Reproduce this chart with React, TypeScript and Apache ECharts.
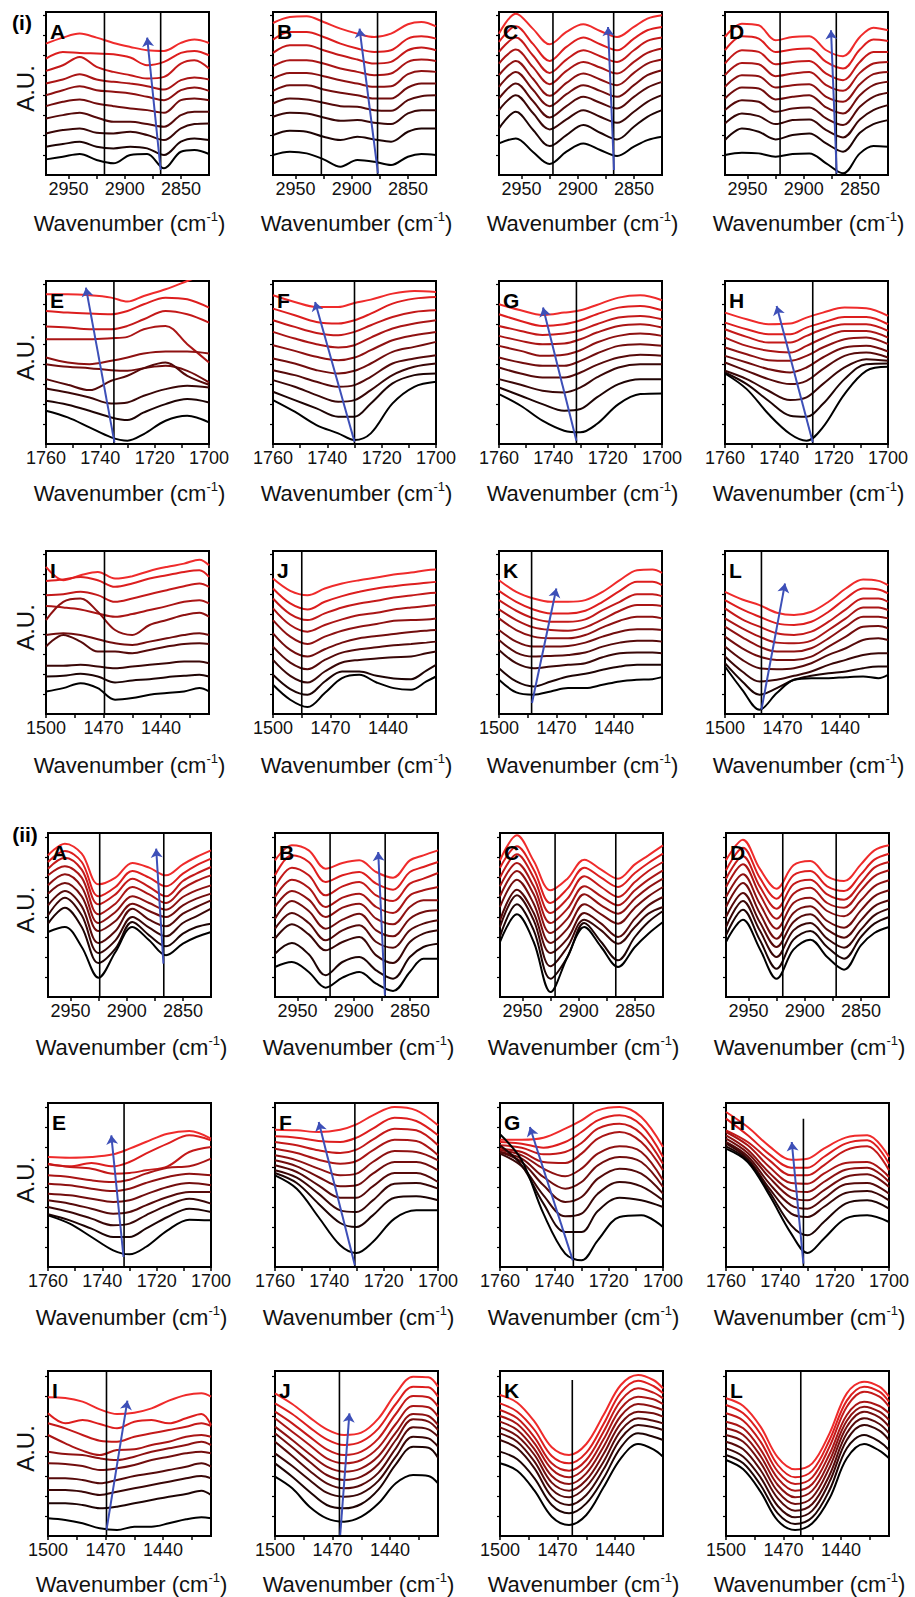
import React, { useEffect, useRef } from 'react';
import * as echarts from 'echarts';

const W = 915;
const H = 1597;
const FONT = '"Liberation Sans", Arial, Helvetica, sans-serif';

// sampled wavenumbers (cm-1)
const xCH = [2970, 2955, 2940, 2925, 2910, 2895, 2880, 2865, 2850, 2838, 2825];
const xCO = [1760, 1752, 1744, 1736, 1730, 1724, 1716, 1708, 1700];
const xSC = [1500, 1491, 1482, 1473, 1464, 1455, 1446, 1437, 1428, 1420, 1415];

// tick labels
const ticksCH = [2950, 2925, 2900, 2875, 2850];
const labelsCH = [2950, 2900, 2850];
const ticksCO = [1760, 1750, 1740, 1730, 1720, 1710, 1700];
const labelsCO = [1760, 1740, 1720, 1700];
const ticksSC = [1500, 1485, 1470, 1455, 1440, 1425];
const labelsSC = [1500, 1470, 1440];

// curve colours, black (first spectrum) to red (last spectrum)
const curveColors = ['#000000', '#1e0404', '#3a0707', '#560a0a', '#720d0d', '#8e1111', '#aa1515', '#c41919', '#dd1e1e', '#ef2b2b'];

// ---- (i) spectra: rows listed top (red) to bottom (black), A.U. ----
const iA = [
  [395, 413, 425, 413, 397, 385, 375, 373, 397, 407, 397],
  [350, 370, 367, 365, 363, 353, 330, 340, 367, 373, 360],
  [313, 330, 355, 325, 310, 300, 290, 295, 335, 345, 320],
  [275, 287, 303, 287, 280, 275, 267, 257, 285, 293, 287],
  [240, 255, 267, 255, 250, 245, 235, 225, 255, 263, 253],
  [207, 220, 227, 215, 207, 200, 195, 187, 225, 230, 225],
  [170, 180, 187, 173, 160, 160, 153, 145, 180, 190, 190],
  [125, 135, 140, 127, 125, 130, 120, 105, 140, 153, 155],
  [85, 93, 100, 85, 80, 85, 80, 60, 100, 110, 105],
  [47, 55, 63, 45, 35, 60, 63, 20, 70, 75, 63],
];
const iB = [
  [457, 475, 477, 460, 440, 425, 415, 425, 453, 460, 447],
  [407, 430, 430, 415, 395, 380, 370, 375, 410, 417, 410],
  [367, 390, 390, 375, 360, 347, 335, 340, 375, 383, 375],
  [327, 345, 345, 335, 320, 310, 300, 305, 340, 347, 343],
  [290, 307, 307, 297, 285, 275, 265, 267, 303, 313, 310],
  [253, 270, 270, 257, 247, 240, 230, 230, 263, 275, 275],
  [215, 230, 227, 217, 207, 205, 195, 193, 225, 237, 240],
  [175, 187, 185, 173, 163, 165, 157, 153, 185, 195, 195],
  [120, 133, 130, 115, 105, 115, 107, 100, 130, 140, 140],
  [60, 70, 65, 47, 25, 45, 40, 30, 55, 63, 60],
];
const iC = [
  [425, 485, 440, 393, 430, 453, 433, 415, 445, 470, 480],
  [400, 447, 395, 343, 385, 413, 393, 375, 410, 435, 445],
  [370, 413, 360, 307, 347, 375, 357, 340, 375, 403, 413],
  [335, 377, 325, 273, 313, 340, 323, 305, 340, 367, 380],
  [300, 343, 290, 238, 277, 305, 287, 270, 307, 335, 347],
  [265, 310, 257, 207, 243, 270, 253, 235, 270, 300, 315],
  [230, 275, 223, 173, 207, 235, 217, 200, 235, 263, 280],
  [195, 240, 187, 137, 167, 195, 175, 157, 190, 220, 240],
  [140, 190, 137, 87, 120, 150, 127, 107, 145, 175, 195],
  [95, 110, 70, 33, 70, 95, 75, 57, 85, 105, 115],
];
const iD = [
  [415, 455, 450, 405, 415, 417, 375, 357, 415, 443, 435],
  [375, 417, 410, 370, 377, 380, 340, 320, 377, 407, 403],
  [335, 375, 370, 333, 340, 343, 305, 285, 340, 370, 370],
  [300, 337, 333, 297, 305, 310, 270, 253, 307, 335, 340],
  [265, 300, 297, 263, 270, 273, 235, 220, 273, 303, 310],
  [230, 263, 260, 227, 235, 240, 203, 185, 240, 270, 280],
  [195, 225, 220, 190, 200, 203, 170, 150, 205, 235, 247],
  [155, 185, 177, 153, 165, 167, 135, 113, 167, 195, 210],
  [105, 140, 130, 107, 120, 125, 95, 70, 127, 153, 165],
  [60, 67, 65, 55, 63, 65, 35, 5, 65, 87, 85],
];
const iE = [
  [450, 450, 447, 440, 428, 445, 465, 490, 515],
  [400, 395, 392, 390, 400, 420, 440, 435, 410],
  [353, 350, 345, 345, 355, 375, 400, 390, 365],
  [315, 315, 315, 318, 322, 345, 355, 300, 245],
  [260, 245, 240, 250, 260, 272, 278, 278, 272],
  [240, 232, 228, 222, 220, 228, 235, 220, 185],
  [195, 178, 162, 190, 205, 228, 245, 205, 178],
  [167, 155, 140, 122, 125, 145, 165, 175, 170],
  [130, 118, 100, 80, 72, 95, 120, 135, 125],
  [100, 80, 50, 20, 10, 30, 70, 85, 65],
];
const iF = [
  [447, 427, 412, 412, 424, 434, 452, 460, 457],
  [407, 387, 367, 362, 372, 392, 422, 437, 442],
  [372, 352, 334, 327, 337, 357, 382, 397, 402],
  [337, 317, 300, 290, 297, 320, 347, 362, 372],
  [297, 280, 262, 252, 260, 282, 312, 327, 337],
  [257, 242, 222, 212, 220, 242, 277, 292, 307],
  [222, 207, 187, 172, 177, 202, 242, 257, 267],
  [192, 172, 147, 127, 132, 162, 207, 232, 242],
  [157, 132, 107, 82, 82, 122, 182, 207, 212],
  [132, 97, 57, 32, 12, 32, 122, 172, 187],
];
const iG = [
  [420, 402, 388, 395, 402, 418, 440, 447, 432],
  [390, 370, 355, 360, 372, 390, 410, 415, 402],
  [355, 340, 328, 332, 342, 360, 380, 385, 375],
  [325, 310, 300, 302, 315, 335, 355, 360, 350],
  [295, 280, 265, 268, 282, 305, 325, 332, 325],
  [260, 245, 235, 235, 250, 272, 295, 300, 295],
  [230, 212, 200, 200, 215, 238, 260, 268, 265],
  [195, 178, 160, 155, 170, 200, 230, 240, 240],
  [170, 145, 120, 100, 105, 140, 180, 195, 195],
  [150, 115, 70, 40, 35, 60, 120, 150, 152],
];
const iH = [
  [395, 375, 360, 362, 380, 395, 410, 408, 385],
  [365, 345, 330, 330, 350, 365, 382, 382, 360],
  [345, 322, 305, 305, 325, 345, 360, 360, 340],
  [320, 295, 280, 275, 295, 318, 340, 340, 320],
  [290, 270, 252, 250, 265, 290, 315, 320, 300],
  [265, 245, 225, 215, 230, 260, 290, 295, 278],
  [245, 220, 195, 180, 190, 225, 265, 275, 260],
  [220, 195, 160, 132, 140, 180, 230, 255, 250],
  [215, 180, 130, 85, 82, 120, 195, 240, 242],
  [212, 165, 90, 30, 10, 50, 150, 220, 232],
];
const iI = [
  [443, 403, 418, 428, 408, 415, 431, 443, 453, 465, 448],
  [401, 405, 413, 403, 383, 393, 408, 418, 428, 433, 413],
  [358, 361, 368, 358, 338, 348, 361, 373, 385, 393, 383],
  [325, 321, 315, 303, 293, 301, 313, 325, 338, 343, 333],
  [283, 338, 348, 308, 253, 238, 268, 283, 298, 305, 293],
  [238, 243, 238, 225, 213, 208, 218, 228, 238, 243, 238],
  [203, 238, 218, 188, 188, 183, 193, 203, 211, 213, 211],
  [145, 145, 148, 143, 138, 143, 148, 153, 158, 158, 153],
  [113, 115, 121, 113, 95, 101, 105, 111, 115, 118, 113],
  [68, 78, 93, 78, 43, 48, 58, 63, 68, 78, 68],
];
const iJ = [
  [408, 371, 358, 378, 393, 403, 411, 420, 426, 433, 435],
  [378, 333, 315, 338, 355, 368, 378, 385, 391, 395, 398],
  [348, 301, 283, 303, 321, 333, 341, 351, 357, 363, 365],
  [318, 268, 248, 268, 285, 298, 305, 315, 321, 325, 328],
  [283, 233, 211, 233, 251, 263, 271, 281, 283, 285, 288],
  [243, 193, 173, 195, 215, 228, 235, 241, 247, 251, 253],
  [203, 155, 135, 163, 185, 195, 201, 207, 211, 215, 218],
  [163, 115, 95, 128, 155, 163, 167, 171, 173, 183, 188],
  [118, 75, 58, 98, 128, 128, 115, 107, 105, 131, 148],
  [88, 43, 21, 63, 108, 118, 95, 78, 73, 98, 113],
];
const iK = [
  [403, 368, 348, 338, 338, 343, 368, 403, 433, 435, 425],
  [371, 338, 315, 303, 303, 311, 338, 371, 398, 398, 388],
  [343, 311, 288, 278, 278, 285, 313, 338, 361, 361, 355],
  [315, 283, 261, 253, 251, 261, 285, 311, 328, 328, 325],
  [288, 253, 233, 228, 228, 238, 261, 281, 293, 293, 288],
  [253, 218, 203, 203, 205, 215, 233, 248, 255, 255, 253],
  [223, 185, 173, 175, 178, 185, 203, 215, 221, 221, 218],
  [193, 153, 138, 143, 148, 153, 171, 183, 185, 185, 183],
  [138, 98, 83, 98, 113, 121, 133, 143, 148, 148, 148],
  [103, 65, 58, 68, 78, 78, 88, 98, 103, 105, 111],
];
const iL = [
  [368, 345, 328, 305, 298, 308, 338, 378, 405, 401, 388],
  [343, 315, 293, 273, 268, 278, 308, 348, 378, 375, 363],
  [318, 285, 263, 243, 238, 248, 278, 315, 348, 348, 338],
  [288, 258, 233, 215, 213, 221, 253, 288, 321, 321, 313],
  [263, 231, 203, 188, 188, 198, 228, 263, 293, 293, 288],
  [233, 198, 173, 163, 163, 173, 203, 233, 263, 265, 258],
  [203, 163, 138, 135, 138, 153, 178, 198, 223, 228, 223],
  [173, 128, 98, 103, 115, 128, 148, 163, 178, 183, 183],
  [153, 98, 58, 78, 103, 115, 123, 128, 138, 143, 143],
  [143, 73, 13, 63, 103, 108, 108, 111, 113, 108, 118],
];

// ---- (ii) spectra ----
const iiA = [
  [425, 460, 430, 338, 358, 402, 388, 365, 398, 420, 440],
  [405, 438, 405, 302, 330, 378, 358, 332, 370, 395, 415],
  [385, 418, 382, 278, 308, 355, 330, 302, 348, 370, 390],
  [365, 392, 358, 248, 280, 330, 308, 282, 325, 348, 365],
  [335, 368, 330, 222, 255, 302, 282, 262, 300, 320, 335],
  [310, 342, 302, 198, 228, 280, 258, 240, 275, 295, 310],
  [275, 318, 272, 162, 198, 265, 232, 212, 250, 270, 290],
  [245, 298, 245, 132, 170, 240, 208, 182, 222, 242, 265],
  [220, 268, 210, 102, 145, 225, 185, 152, 190, 210, 220],
  [195, 210, 150, 58, 135, 210, 170, 125, 160, 180, 195],
];
const iiB = [
  [410, 455, 440, 385, 402, 410, 375, 358, 410, 425, 440],
  [365, 425, 405, 345, 365, 375, 340, 322, 375, 390, 405],
  [330, 388, 365, 305, 332, 345, 305, 288, 340, 355, 372],
  [300, 352, 328, 270, 298, 310, 270, 252, 305, 320, 330],
  [270, 318, 292, 240, 268, 280, 235, 218, 270, 290, 290],
  [235, 288, 258, 205, 232, 250, 200, 182, 235, 255, 260],
  [205, 252, 222, 170, 200, 215, 165, 148, 200, 220, 230],
  [175, 218, 188, 140, 165, 180, 125, 102, 165, 190, 200],
  [130, 162, 128, 65, 105, 120, 80, 55, 120, 150, 160],
  [90, 105, 75, 28, 58, 75, 40, 18, 75, 115, 115],
];
const iiC = [
  [410, 485, 408, 320, 355, 412, 382, 355, 398, 425, 455],
  [388, 452, 382, 282, 325, 388, 358, 330, 372, 402, 430],
  [358, 428, 358, 252, 295, 362, 330, 300, 345, 378, 405],
  [332, 402, 332, 222, 265, 332, 302, 275, 320, 352, 380],
  [302, 378, 308, 192, 235, 308, 275, 250, 295, 328, 355],
  [270, 352, 280, 162, 205, 278, 248, 220, 268, 302, 330],
  [230, 322, 252, 132, 175, 252, 220, 180, 235, 275, 300],
  [210, 305, 230, 92, 150, 232, 200, 160, 210, 250, 270],
  [182, 278, 200, 55, 120, 222, 165, 110, 180, 225, 258],
  [165, 248, 165, 15, 120, 210, 150, 90, 150, 190, 225],
];
const iiD = [
  [410, 472, 385, 325, 395, 408, 362, 348, 398, 440, 455],
  [380, 448, 358, 295, 365, 378, 332, 318, 368, 412, 430],
  [355, 422, 332, 265, 338, 352, 308, 292, 342, 388, 405],
  [330, 398, 308, 235, 310, 328, 282, 268, 320, 362, 380],
  [300, 368, 280, 205, 282, 298, 258, 242, 290, 332, 350],
  [270, 342, 252, 175, 252, 272, 228, 208, 260, 302, 320],
  [240, 312, 225, 150, 225, 248, 202, 178, 230, 272, 290],
  [210, 288, 200, 120, 200, 222, 175, 148, 202, 245, 265],
  [185, 262, 172, 85, 172, 198, 150, 115, 180, 220, 240],
  [165, 232, 145, 55, 142, 172, 120, 82, 155, 192, 210],
];
const iiE = [
  [330, 328, 330, 338, 355, 375, 400, 408, 385],
  [310, 302, 312, 302, 315, 340, 370, 395, 380],
  [308, 300, 295, 280, 282, 290, 302, 345, 360],
  [275, 270, 260, 255, 262, 280, 298, 302, 325],
  [250, 245, 235, 228, 235, 252, 270, 280, 275],
  [220, 215, 205, 195, 200, 218, 240, 252, 245],
  [200, 190, 175, 160, 165, 185, 210, 225, 225],
  [180, 165, 145, 125, 130, 155, 185, 205, 190],
  [158, 140, 115, 90, 90, 115, 150, 175, 165],
  [155, 130, 90, 50, 38, 60, 110, 142, 140],
];
const iiF = [
  [412, 410, 405, 412, 428, 455, 480, 470, 425],
  [392, 388, 378, 375, 388, 415, 448, 438, 395],
  [375, 365, 350, 342, 352, 382, 415, 410, 365],
  [355, 342, 322, 310, 318, 350, 382, 378, 335],
  [335, 320, 295, 275, 280, 315, 348, 345, 320],
  [320, 302, 270, 242, 245, 280, 315, 315, 290],
  [305, 285, 245, 208, 208, 242, 282, 282, 255],
  [290, 268, 220, 170, 165, 200, 250, 252, 235],
  [282, 252, 190, 132, 120, 155, 208, 212, 200],
  [275, 235, 150, 65, 42, 75, 145, 170, 170],
];
const iiG = [
  [382, 382, 388, 415, 440, 470, 480, 450, 360],
  [375, 370, 358, 375, 405, 440, 455, 425, 330],
  [365, 358, 338, 345, 372, 415, 430, 400, 310],
  [355, 345, 315, 312, 340, 385, 405, 375, 290],
  [350, 335, 295, 272, 295, 340, 362, 345, 260],
  [345, 325, 270, 235, 255, 305, 330, 315, 240],
  [345, 315, 245, 195, 210, 265, 295, 280, 220],
  [340, 302, 215, 152, 160, 220, 255, 242, 200],
  [365, 305, 190, 105, 105, 168, 208, 200, 180],
  [398, 320, 160, 40, 20, 80, 150, 155, 120],
];
const iiH = [
  [465, 420, 362, 322, 325, 355, 388, 395, 330],
  [445, 395, 338, 298, 298, 330, 370, 380, 310],
  [410, 375, 320, 275, 275, 305, 350, 362, 290],
  [405, 365, 300, 252, 250, 280, 312, 315, 270],
  [395, 352, 282, 230, 225, 255, 292, 298, 255],
  [385, 342, 268, 208, 200, 230, 270, 278, 240],
  [375, 332, 250, 185, 175, 205, 248, 252, 220],
  [370, 325, 235, 160, 150, 180, 222, 228, 200],
  [362, 320, 225, 125, 95, 135, 190, 200, 175],
  [355, 315, 215, 100, 42, 85, 145, 155, 135],
];
const iiI = [
  [416, 414, 403, 380, 366, 370, 383, 406, 423, 428, 418],
  [368, 338, 348, 336, 323, 343, 348, 338, 353, 366, 333],
  [338, 323, 303, 286, 283, 298, 308, 318, 328, 338, 330],
  [303, 278, 256, 243, 258, 260, 273, 283, 298, 303, 298],
  [253, 246, 243, 233, 228, 238, 253, 263, 273, 283, 273],
  [218, 216, 210, 198, 203, 213, 228, 238, 248, 253, 248],
  [173, 173, 168, 158, 168, 180, 188, 198, 208, 218, 208],
  [138, 138, 133, 123, 133, 143, 153, 163, 173, 180, 173],
  [98, 98, 93, 83, 88, 98, 108, 118, 126, 136, 123],
  [53, 48, 38, 23, 18, 28, 28, 38, 50, 56, 53],
];
const iiJ = [
  [428, 396, 356, 320, 303, 310, 353, 428, 478, 476, 448],
  [398, 366, 326, 290, 273, 283, 323, 396, 448, 446, 418],
  [373, 338, 298, 260, 243, 253, 293, 366, 420, 416, 388],
  [353, 313, 273, 233, 218, 228, 266, 336, 390, 386, 358],
  [328, 288, 246, 208, 193, 203, 240, 310, 366, 360, 333],
  [308, 266, 223, 183, 168, 178, 216, 288, 350, 343, 318],
  [283, 240, 196, 158, 143, 153, 190, 263, 326, 320, 298],
  [248, 210, 168, 130, 118, 128, 166, 238, 298, 293, 268],
  [218, 178, 133, 93, 83, 96, 140, 215, 268, 265, 235],
  [178, 143, 88, 53, 43, 58, 98, 158, 183, 180, 158],
];
const iiK = [
  [423, 400, 343, 266, 243, 276, 363, 453, 483, 468, 443],
  [398, 373, 318, 240, 218, 250, 336, 430, 466, 450, 428],
  [378, 353, 296, 218, 196, 228, 313, 406, 443, 430, 413],
  [360, 336, 278, 200, 176, 208, 290, 383, 418, 410, 396],
  [343, 318, 260, 180, 156, 188, 268, 360, 396, 388, 378],
  [326, 300, 243, 160, 136, 168, 246, 338, 373, 368, 358],
  [308, 283, 223, 140, 116, 148, 223, 316, 353, 346, 338],
  [288, 263, 203, 118, 93, 123, 200, 293, 333, 326, 318],
  [253, 230, 173, 93, 68, 98, 173, 266, 308, 298, 288],
  [218, 196, 136, 58, 33, 63, 146, 233, 276, 260, 238],
];
const iiL = [
  [413, 390, 328, 236, 200, 218, 308, 428, 463, 448, 418],
  [393, 368, 306, 213, 176, 196, 288, 406, 448, 433, 403],
  [368, 346, 283, 193, 156, 176, 268, 388, 433, 418, 388],
  [343, 323, 260, 173, 136, 156, 246, 363, 403, 390, 368],
  [323, 303, 240, 153, 116, 136, 226, 346, 388, 373, 348],
  [303, 283, 220, 133, 96, 116, 206, 328, 373, 356, 328],
  [283, 260, 198, 113, 76, 96, 183, 308, 353, 336, 308],
  [263, 238, 176, 90, 56, 76, 163, 288, 333, 316, 288],
  [243, 218, 153, 68, 36, 56, 138, 263, 303, 283, 258],
  [228, 200, 133, 46, 18, 38, 113, 233, 276, 256, 233],
];

// reference lines (wavenumber, optional upper end) and blue arrows (from, to)
const vlinesI = {
  A: [2918, 2868], B: [2927, 2877], C: [2922, 2868], D: [2921, 2871],
  E: [1735], F: [1730], G: [1731.5], H: [1727.7],
  I: [1469.5], J: [1485], K: [1483], L: [1481],
};
const vlinesII = {
  A: [2924, 2867], B: [2921, 2872], C: [2921, 2867], D: [2919.5, 2872],
  E: [1732], F: [1730.6], G: [1733], H: [[1731.5, 445]],
  I: [1469.5], J: [1466.4], K: [[1462.3, 468]], L: [1461],
};
const arrowsI = {
  A: [[2868, 15], [2880, 413]], B: [[2876.6, 5], [2893, 440]], C: [[2867.7, 15], [2873, 445]], D: [[2870.6, 5], [2875.7, 435]],
  E: [[1734.8, 5], [1745.3, 470]], F: [[1730, 7], [1744.5, 427]], G: [[1731.5, 10], [1743.8, 410]], H: [[1727.7, 5], [1741, 415]],
  K: [[1482.8, 33], [1470.1, 378]], L: [[1481, 13], [1468.7, 393]],
};
const arrowsII = {
  A: [[2867.3, 100], [2873.8, 445]], B: [[2872.2, 5], [2878.2, 435]],
  E: [[1732.2, 30], [1736.7, 395]], F: [[1730.6, 5], [1743.9, 435]], G: [[1733.2, 20], [1749, 420]], H: [[1731.5, 10], [1735.8, 375]],
  I: [[1469.5, 18], [1458.6, 406]], J: [[1466, 3], [1461.2, 368]],
};

// ---- layout (pixels) ----
const colLeftTop = [46, 273, 499, 725];
const colLeftBottom = [48, 275, 500, 726];
const rowTop = [12, 281, 551, 833, 1103, 1371];
const rowH = [163, 163, 163, 164, 164, 165];
const rowYMax = [490, 490, 491, 492, 492, 495];
const titleY = [223, 493, 765, 1047, 1317, 1584];
const BOX_W = 163;

const ranges: any = {
  CH: { xs: xCH, min: 2825, max: 2970, ticks: ticksCH, labels: labelsCH },
  CO: { xs: xCO, min: 1700, max: 1760, ticks: ticksCO, labels: labelsCO },
  SC: { xs: xSC, min: 1415, max: 1500, ticks: ticksSC, labels: labelsSC },
};

const curvesI: any = { A: iA, B: iB, C: iC, D: iD, E: iE, F: iF, G: iG, H: iH, I: iI, J: iJ, K: iK, L: iL };
const curvesII: any = { A: iiA, B: iiB, C: iiC, D: iiD, E: iiE, F: iiF, G: iiG, H: iiH, I: iiI, J: iiJ, K: iiK, L: iiL };
const letters = ['A', 'B', 'C', 'D', 'E', 'F', 'G', 'H', 'I', 'J', 'K', 'L'];
const rowKinds = ['CH', 'CO', 'SC'];

function buildOption() {
  const grid: any[] = [];
  const xAxis: any[] = [];
  const yAxis: any[] = [];
  const series: any[] = [];
  const graphic: any[] = [];
  let idx = 0;
  [0, 1].forEach((sec) => {
    const curvesMap = sec === 0 ? curvesI : curvesII;
    const vmap: any = sec === 0 ? vlinesI : vlinesII;
    const amap: any = sec === 0 ? arrowsI : arrowsII;
    letters.forEach((L, li) => {
      const r = sec * 3 + Math.floor(li / 4);
      const c = li % 4;
      const kind = rowKinds[Math.floor(li / 4)];
      const rg = ranges[kind];
      const left = (sec === 0 ? colLeftTop : colLeftBottom)[c];
      const top = rowTop[r];
      const h = rowH[r];
      const ymax = rowYMax[r];
      const i = idx++;
      grid.push({ left, top, width: BOX_W, height: h, show: true, borderColor: '#000', borderWidth: 2, backgroundColor: 'rgba(0,0,0,0)' });
      xAxis.push({
        gridIndex: i, type: 'value', inverse: true, min: rg.min, max: rg.max,
        axisLine: { show: true, onZero: false, lineStyle: { color: '#000', width: 2 } },
        axisTick: { show: true, customValues: rg.ticks, length: 4, lineStyle: { color: '#000', width: 1.5 } },
        axisLabel: {
          show: true, customValues: rg.labels, color: '#111', fontSize: 18, fontFamily: FONT, margin: 5,
          formatter: (v: number) => String(v),
        },
        splitLine: { show: false },
      });
      yAxis.push({
        gridIndex: i, type: 'value', min: 0, max: ymax,
        axisLine: { show: true, onZero: false, lineStyle: { color: '#000', width: 2 } },
        axisTick: { show: true, customValues: [60, 120, 180, 240, 300, 360, 420, 480], length: 3, lineStyle: { color: '#000', width: 1.2 } },
        axisLabel: { show: false },
        splitLine: { show: false },
      });
      const curves = curvesMap[L];
      curves.forEach((vals: number[], k: number) => {
        series.push({
          type: 'line', xAxisIndex: i, yAxisIndex: i,
          data: rg.xs.map((x: number, j: number) => [x, vals[j]]),
          smooth: 0.35, symbol: 'none', silent: true, z: 2, clip: true,
          lineStyle: { color: curveColors[curves.length - 1 - k], width: 2 },
        });
      });
      (vmap[L] || []).forEach((v: any) => {
        const x = Array.isArray(v) ? v[0] : v;
        const to = Array.isArray(v) ? v[1] : ymax;
        series.push({
          type: 'line', xAxisIndex: i, yAxisIndex: i, data: [[x, 0], [x, to]],
          symbol: 'none', silent: true, z: 3, lineStyle: { color: '#000', width: 1.6 },
        });
      });
      if (amap[L]) {
        series.push({
          type: 'lines', coordinateSystem: 'cartesian2d', xAxisIndex: i, yAxisIndex: i,
          data: [{ coords: amap[L] }], symbol: ['none', 'arrow'], symbolSize: 9, silent: true, z: 5,
          lineStyle: { color: '#3d4fb8', width: 2, opacity: 1, curveness: 0 },
        });
      }
      graphic.push({
        type: 'text', x: left + 4, y: top + 19, z: 100,
        style: { text: L, fontSize: 21, fontWeight: 'bold', fontFamily: FONT, fill: '#000', align: 'left', verticalAlign: 'middle' },
      });
      graphic.push({
        type: 'text', x: left + BOX_W / 2 + 2, y: titleY[r], z: 100,
        style: {
          text: '{a|Wavenumber (cm}{s|-1}{a|)}', align: 'center', verticalAlign: 'middle',
          rich: {
            a: { fontSize: 22, fontFamily: FONT, fill: '#111', lineHeight: 26 },
            s: { fontSize: 13, fontFamily: FONT, fill: '#111', verticalAlign: 'top', lineHeight: 14 },
          },
        },
      });
      if (c === 0) {
        graphic.push({
          type: 'text', x: 25, y: top + h / 2 - 5, rotation: Math.PI / 2, z: 100,
          style: { text: 'A.U.', fontSize: 24, fontFamily: FONT, fill: '#111', align: 'center', verticalAlign: 'middle' },
        });
      }
    });
  });
  graphic.push({ type: 'text', x: 22, y: 22, z: 100, style: { text: '(i)', fontSize: 21, fontWeight: 'bold', fontFamily: FONT, fill: '#000', align: 'center', verticalAlign: 'middle' } });
  graphic.push({ type: 'text', x: 25, y: 834, z: 100, style: { text: '(ii)', fontSize: 21, fontWeight: 'bold', fontFamily: FONT, fill: '#000', align: 'center', verticalAlign: 'middle' } });

  return { animation: false, backgroundColor: '#fff', grid, xAxis, yAxis, series, graphic };
}

export default function App() {
  const ref = useRef<HTMLDivElement>(null);
  useEffect(() => {
    const chart = echarts.init(ref.current as HTMLDivElement, null, { renderer: 'svg' });
    chart.setOption(buildOption());
    return () => chart.dispose();
  }, []);
  return <div ref={ref} style={{ position: 'absolute', left: 0, top: 0, width: W, height: H, background: '#fff' }} />;
}
